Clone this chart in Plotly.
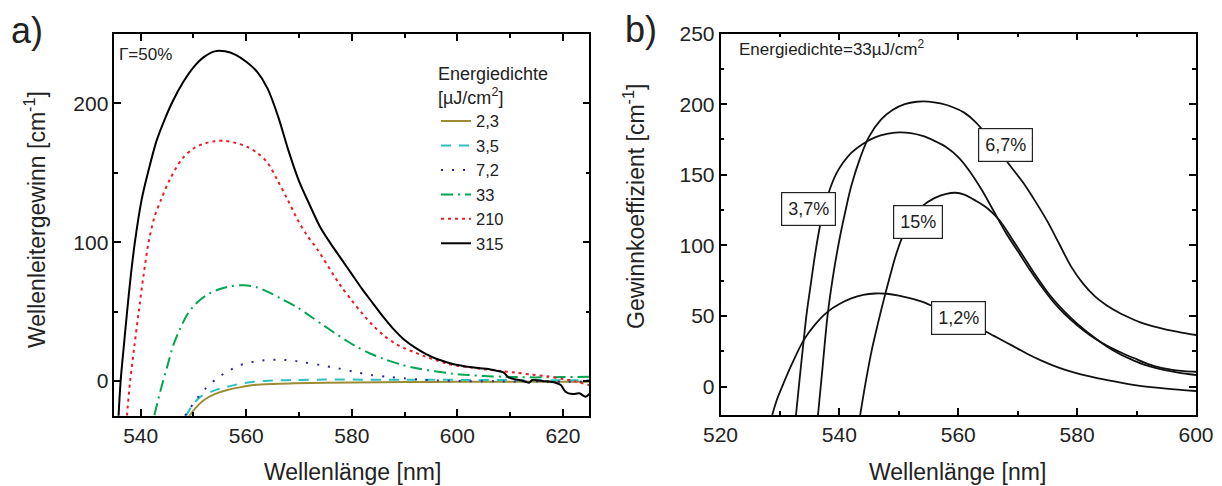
import plotly.graph_objects as go

# ---------------- data: panel a) ----------------
legend_names = ["2,3", "3,5", "7,2", "33", "210", "315"]

wl_23 = [549.1, 550.5, 552.0, 554.0, 556.4, 559.0, 561.5, 565.0, 569.1, 575.0, 580.0, 590.0, 600.0, 612.0, 625.0]
g_23 = [-25.8, -19.0, -13.7, -9.5, -6.5, -4.4, -2.9, -2.1, -1.7, -1.3, -1.0, -0.8, -0.6, -0.5, -0.5]

wl_35 = [548.5, 549.8, 551.3, 553.5, 556.4, 559.0, 561.5, 565.0, 569.1, 575.0, 580.0, 590.0, 600.0, 612.0, 625.0]
g_35 = [-25.8, -17.5, -11.4, -7.5, -4.1, -1.9, -0.5, 0.3, 0.7, 1.0, 1.0, 0.9, 0.8, 0.6, 0.5]

wl_72 = [548.4, 549.1, 550.7, 552.3, 554.5, 556.5, 558.6, 560.7, 562.8, 565.0, 567.0, 569.1, 571.0, 574.0,
         577.4, 580.5, 583.7, 587.0, 590.0, 593.0, 596.4, 600.0, 608.5, 625.0]
g_72 = [-25.0, -21.0, -12.5, -5.3, 2.0, 7.0, 11.0, 13.4, 14.7, 15.3, 15.2, 14.6, 13.4, 11.5,
        9.1, 6.6, 4.3, 2.9, 1.9, 1.0, 0.3, 0.0, -0.3, -0.5]

wl_33 = [542.6, 543.7, 545.0, 546.2, 547.5, 548.8, 550.0, 551.3, 553.0, 555.0, 557.0, 559.5, 562.0, 564.5,
         567.0, 569.7, 572.0, 574.5, 576.8, 579.0, 581.0, 583.1, 586.0, 589.4, 592.5, 595.8, 599.0, 602.1,
         605.0, 608.5, 611.5, 614.8, 620.0, 625.0]
g_33 = [-24.6, -7.7, 10.0, 26.0, 38.0, 47.7, 54.0, 58.6, 63.0, 66.3, 68.2, 69.0, 67.5, 63.5,
        58.5, 53.0, 47.0, 40.5, 34.5, 29.0, 24.5, 20.5, 16.0, 11.8, 9.0, 7.0, 5.3, 4.3,
        3.6, 3.1, 2.8, 2.6, 2.8, 3.1]

wl_210 = [537.4, 538.0, 538.8, 539.6, 540.5, 541.5, 542.6, 543.9, 545.5, 547.8, 550.0, 552.0, 554.0, 556.0,
          558.0, 560.0, 562.0, 564.0, 566.0, 567.8, 569.7, 571.5, 573.5, 576.7, 578.0, 580.0, 582.0, 584.0,
          586.0, 588.0, 590.0, 592.0, 594.0, 596.0, 598.0, 600.0, 602.0, 605.0, 608.0, 611.0, 614.0, 617.0,
          620.0, 622.0, 625.0]
g_210 = [-25.0, 0.0, 25.0, 49.0, 75.0, 100.0, 118.0, 131.0, 145.0, 159.8, 167.5, 171.0, 172.8, 173.0,
         171.5, 169.0, 164.5, 157.4, 144.0, 131.0, 116.4, 105.0, 94.7, 75.4, 68.0, 58.0, 48.5, 40.0,
         33.0, 27.5, 23.5, 20.5, 17.5, 15.0, 12.5, 11.0, 10.0, 8.5, 7.3, 6.1, 4.6, 3.4,
         1.5, 0.0, -3.0]

wl_315 = [535.8, 536.2, 536.8, 537.4, 538.1, 538.9, 540.2, 541.5, 543.0, 544.5, 546.0, 548.0, 550.0, 552.0,
          554.0, 556.0, 558.0, 560.0, 562.0, 564.0, 566.0, 568.0, 570.0, 572.0, 574.0, 576.0, 578.0, 580.0,
          582.0, 584.0, 586.0, 588.0, 590.0, 592.0, 594.0, 596.0, 598.0, 600.0, 602.0, 604.0, 605.9, 607.2,
          608.8, 609.7, 612.3, 613.6, 614.2, 616.1, 618.6, 619.6, 620.5, 621.8, 623.1, 624.3, 625.0]
g_315 = [-25.8, 0.0, 25.0, 49.0, 75.0, 100.0, 131.0, 152.0, 173.0, 188.0, 201.0, 215.0, 226.0, 233.5,
         237.5, 237.5, 235.0, 230.0, 223.0, 211.0, 191.0, 166.0, 144.0, 127.0, 111.0, 99.0, 88.0, 77.0,
         66.0, 56.0, 46.0, 37.0, 29.5, 24.0, 19.5, 16.0, 13.5, 11.5, 10.3, 9.3, 8.7, 7.5,
         6.0, 2.6, 0.2, -1.2, 0.7, 0.0, -1.2, -2.9, -7.7, -9.4, -8.9, -11.3, -9.4]

# ---------------- data: panel b) ----------------
label_names = ["1,2%", "3,7%", "6,7%", "15%"]

wl_12 = [528.7, 529.5, 530.6, 532.0, 534.0, 536.0, 538.0, 540.0, 542.0, 544.0, 546.0, 548.0, 550.0, 552.0,
         554.0, 556.0, 558.0, 560.0, 562.0, 564.0, 566.0, 568.0, 570.0, 572.0, 574.0, 576.0, 578.0, 580.0,
         583.0, 586.0, 590.0, 595.0, 600.0]
g_12 = [-20.0, -9.0, 2.4, 16.0, 33.0, 44.5, 53.0, 58.5, 62.5, 65.0, 66.0, 65.8, 64.5, 62.5,
        60.0, 56.5, 53.0, 48.8, 44.5, 40.5, 36.0, 31.5, 27.0, 22.5, 18.5, 15.0, 12.0, 9.5,
        6.5, 4.0, 1.0, -1.3, -3.0]

wl_37 = [532.7, 533.3, 534.0, 534.5, 535.1, 536.0, 536.8, 537.6, 538.5, 539.5, 540.7, 542.0, 544.0, 546.0,
         548.0, 550.0, 552.0, 554.0, 556.0, 558.0, 560.0, 562.0, 564.0, 566.0, 568.0, 570.0, 572.0, 574.0,
         576.0, 578.0, 580.0, 582.0, 584.0, 586.0, 588.0, 590.0, 592.0, 594.0, 596.0, 598.0, 600.0]
g_37 = [-20.0, 5.0, 33.0, 52.0, 70.0, 96.0, 115.0, 129.0, 141.0, 151.0, 159.0, 165.5, 172.0, 176.5,
        179.0, 180.0, 179.5, 177.5, 174.0, 169.5, 162.5, 152.0, 139.0, 124.0, 109.0, 96.0, 83.0, 71.0,
        60.0, 51.0, 43.5, 37.0, 31.5, 27.0, 23.0, 19.5, 16.0, 13.5, 12.0, 11.0, 10.6]

wl_67 = [536.4, 537.2, 538.0, 539.0, 540.0, 541.0, 542.0, 543.5, 545.0, 547.0, 549.0, 551.0, 553.0, 555.0,
         557.0, 559.0, 561.0, 563.0, 565.0, 567.0, 569.0, 571.0, 573.0, 575.0, 577.0, 579.0, 581.0, 583.0,
         585.0, 587.0, 589.0, 591.0, 593.0, 595.0, 597.0, 599.0, 600.0]
g_67 = [-20.0, 15.0, 50.0, 80.0, 104.0, 124.0, 142.0, 162.0, 177.0, 189.0, 196.0, 200.0, 201.7, 201.8,
        200.5, 198.0, 194.0, 187.0, 177.0, 166.0, 155.0, 144.0, 131.0, 117.0, 101.0, 85.0, 73.0, 64.0,
        57.5, 52.5, 48.5, 45.0, 42.5, 40.5, 38.8, 37.3, 36.6]

wl_15 = [543.5, 544.5, 545.5, 546.5, 547.5, 548.5, 549.5, 550.5, 551.5, 552.5, 554.0, 556.0, 558.0, 559.5,
         561.0, 563.0, 565.0, 567.0, 569.0, 571.0, 573.0, 575.0, 577.0, 579.0, 581.0, 583.0, 585.0, 587.0,
         589.0, 591.0, 593.0, 595.0, 597.0, 600.0]
g_15 = [-20.0, 5.0, 27.0, 45.0, 62.0, 78.0, 93.0, 105.0, 114.0, 121.0, 128.0, 133.5, 136.5, 137.3,
        136.0, 131.5, 126.0, 117.5, 105.0, 92.0, 79.0, 67.0, 57.0, 48.5, 41.0, 34.5, 28.5, 23.5,
        19.5, 16.0, 13.5, 11.5, 10.0, 8.3]

# label anchor points (data coordinates of panel b)
label_x = [560.1, 534.8, 568.0, 553.2]
label_y = [48.8, 125.8, 170.8, 116.8]

# ---------------- figure ----------------
W, H = 1222, 486
FONT = "Arial, Liberation Sans, sans-serif"

def fx(p):
    return p / W

def fy(p):
    return 1 - p / H

fig = go.Figure()

styles_a = [
    ("#9C8C33", "solid", wl_23, g_23),
    ("#2FC0C0", "10px,8px", wl_35, g_35),
    ("#2B2B9B", "2px,9px", wl_72, g_72),
    ("#00A651", "12px,5px,2px,5px", wl_33, g_33),
    ("#ED1C24", "3px,4px", wl_210, g_210),
    ("#000000", "solid", wl_315, g_315),
]
for name, (col, dash, xs, ys) in zip(legend_names, styles_a):
    fig.add_trace(go.Scatter(x=xs, y=ys, name=name, mode="lines",
                             line=dict(color=col, dash=dash, width=2, shape="spline", smoothing=0.9),
                             xaxis="x", yaxis="y"))

for xs, ys in [(wl_12, g_12), (wl_37, g_37), (wl_67, g_67), (wl_15, g_15)]:
    fig.add_trace(go.Scatter(x=xs, y=ys, mode="lines", showlegend=False,
                             line=dict(color="#111111", width=1.8, shape="spline", smoothing=0.9),
                             xaxis="x2", yaxis="y2"))

axis_common = dict(showline=True, linecolor="#000000", linewidth=1.5, mirror="ticks",
                   ticks="inside", ticklen=7, tickwidth=1.5, tickcolor="#000000",
                   showgrid=False, zeroline=False, automargin=False,
                   tickfont=dict(family=FONT, size=21, color="#222222"))

def minor(d):
    return dict(ticks="inside", ticklen=4, dtick=d, tick0=0, tickcolor="#000000", tickwidth=1.5, showgrid=False)

fig.update_layout(
    template="none",
    width=W, height=H,
    margin=dict(l=0, r=0, t=0, b=0, autoexpand=False),
    paper_bgcolor="white", plot_bgcolor="white",
    font=dict(family=FONT, color="#222222"),
    xaxis=dict(domain=[fx(114.3), fx(589.3)], range=[535, 625], dtick=20, tick0=0,
               minor=minor(10), anchor="y", **axis_common),
    yaxis=dict(domain=[fy(415.7), fy(34)], range=[-25, 250], dtick=100, tick0=0,
               minor=minor(50), anchor="x", **axis_common),
    xaxis2=dict(domain=[fx(720.5), fx(1196)], range=[520, 600], dtick=20, tick0=0,
                minor=minor(10), anchor="y2", **axis_common),
    yaxis2=dict(domain=[fy(415.0), fy(33.5)], range=[-20, 250], dtick=50, tick0=0,
                minor=minor(25), anchor="x2", **axis_common),
    legend=dict(x=fx(436), y=fy(57), xanchor="left", yanchor="top",
                bgcolor="rgba(0,0,0,0)", borderwidth=0,
                font=dict(family=FONT, size=16.5, color="#222222"),
                title=dict(text="Energiedichte<br>[µJ/cm<sup>2</sup>]",
                           font=dict(family=FONT, size=18, color="#222222")),
                itemwidth=30, tracegroupgap=0),
)

annotations = []
def note(text, x, y, size, xanchor="center", yanchor="middle", angle=0):
    annotations.append(dict(text=text, x=fx(x), y=fy(y), xref="paper", yref="paper",
                            xanchor=xanchor, yanchor=yanchor, textangle=angle, showarrow=False,
                            font=dict(family=FONT, size=size, color="#222222")))

note("a)", 27, 31, 36)
note("b)", 641, 29, 36)
note("Γ=50%", 117, 55, 17, xanchor="left")
note("Energiedichte=33µJ/cm<sup>2</sup>", 737, 48, 17, xanchor="left")
note("Wellenlänge [nm]", 352, 472, 23)
note("Wellenlänge [nm]", 957, 472, 23)
note("Wellenleitergewinn [cm<sup>-1</sup>]", 35, 220, 23, angle=-90)
note("Gewinnkoeffizient [cm<sup>-1</sup>]", 634, 207, 23, angle=-90)

for t, lx, ly in zip(label_names, label_x, label_y):
    annotations.append(dict(text=t, x=lx, y=ly, xref="x2", yref="y2", showarrow=False,
                            xanchor="center", yanchor="middle",
                            bgcolor="white", bordercolor="#222222", borderwidth=1.2, borderpad=6,
                            font=dict(family=FONT, size=18, color="#222222")))

fig.update_layout(annotations=annotations)
fig.write_html("out.html")
